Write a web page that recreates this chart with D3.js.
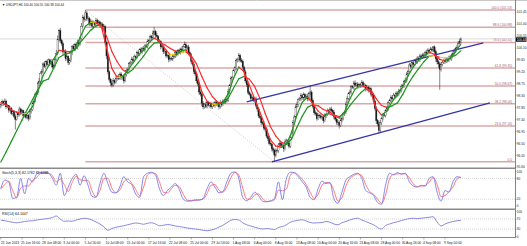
<!doctype html>
<html>
<head>
<style>
body { margin:0; background:#fff; }
svg { display:block; font-family:"Liberation Sans", Arial, sans-serif; }
</style>
<script src="https://d3js.org/d3.v7.min.js"></script>
</head>
<body>
<script>

// ---- data (USDJPY H4) ----
var firstOpen = 97.90;
var closes = [
97.96,98.08,98.01,98.10,97.88,97.92,97.76,97.82,97.64,97.70,
97.52,97.41,97.66,97.58,97.80,97.68,97.74,97.55,97.62,97.48,
97.56,97.44,97.70,97.78,98.02,98.10,98.36,98.40,98.78,98.85,
99.15,99.22,99.50,99.40,99.58,99.47,99.65,99.52,99.60,99.38,
99.45,99.66,99.90,100.42,100.76,100.38,100.26,99.95,99.98,99.70,
99.78,99.55,99.62,99.92,100.15,100.06,100.24,100.12,100.32,100.25,
100.45,100.92,101.25,101.18,101.42,101.20,101.22,101.00,101.10,100.92,
101.06,100.98,101.14,101.02,101.08,100.95,101.00,100.84,100.90,100.30,
99.80,99.20,98.92,98.78,98.70,98.88,98.80,98.95,99.02,98.96,
99.12,98.98,99.02,98.86,99.10,99.24,99.30,99.52,99.55,99.68,
99.62,99.78,99.74,99.92,99.90,100.04,99.96,100.08,100.02,100.18,
100.16,100.34,100.38,100.52,100.48,100.66,100.72,100.58,100.54,100.36,
100.34,100.14,100.16,99.96,99.98,99.80,99.82,99.66,99.70,99.68,
99.80,99.78,99.92,99.86,100.00,99.94,100.06,99.98,100.16,100.22,
100.10,100.14,99.92,99.84,99.60,99.48,99.22,99.12,98.86,98.74,
98.44,98.36,98.02,97.88,97.98,97.90,98.04,97.94,98.00,97.88,
97.98,97.94,98.06,97.96,98.00,97.88,98.04,97.96,98.10,98.06,
98.16,98.12,98.46,98.68,98.94,98.98,99.24,99.36,99.62,99.66,
99.82,99.64,99.60,99.38,99.20,98.86,98.72,98.42,98.36,98.20,
98.24,98.12,98.18,97.92,97.80,97.54,97.48,97.28,97.26,97.08,
97.04,96.78,96.68,96.50,96.48,96.30,96.24,96.06,96.22,96.24,
96.44,96.50,96.42,96.44,96.30,96.56,96.60,96.52,96.40,96.72,
96.92,97.28,97.50,97.88,97.96,98.16,98.18,98.30,98.22,98.34,
98.24,98.28,98.18,98.38,98.44,98.12,97.90,97.66,97.62,97.44,
97.56,97.54,97.48,97.50,97.36,97.54,97.58,97.74,97.68,97.80,
97.74,97.68,97.50,97.42,97.30,97.28,97.18,97.38,97.44,97.62,
97.66,97.98,98.20,98.38,98.44,98.64,98.62,98.78,98.70,98.74,
98.64,98.72,98.68,98.80,98.66,98.70,98.56,98.62,98.50,98.56,
98.36,98.32,98.10,97.82,97.36,97.24,97.00,97.28,97.44,97.58,
97.56,97.74,97.82,98.04,98.12,98.24,98.18,98.32,98.28,98.40,
98.34,98.48,98.50,98.64,98.68,98.84,98.88,99.12,99.22,99.46,
99.40,99.54,99.48,99.62,99.58,99.72,99.66,99.80,99.74,99.84,
99.80,99.94,99.88,100.02,99.96,100.06,100.02,100.14,99.96,99.70,
99.58,99.50,99.30,99.48,99.56,99.62,99.58,99.68,99.64,99.76,
99.70,99.84,99.90,99.98,100.08,100.12,100.28,100.34,100.44
];
// wick lengths above / below the body, in pips (0.01)
var wickHi = [
6,8,4,10,5,7,3,9,6,4, 5,8,6,4,9,5,7,3,6,8, 4,6,9,5,7,10,6,8,5,12, 7,9,6,10,5,8,6,4,9,7,
5,8,12,15,4,10,6,8,5,7, 6,4,9,8,6,10,5,7,9,6, 8,12,10,6,11,7,9,5,8,6, 7,5,9,6,8,4,7,6,9,5,
8,10,6,5,7,9,4,8,6,10, 5,7,6,9,4,8,6,5,7,9, 6,8,4,7,9,5,8,6,10,7, 5,9,6,8,7,10,17,6,8,5,
7,6,9,5,8,6,7,4,9,6, 8,5,7,9,6,8,5,10,7,12, 9,6,8,5,7,6,9,5,8,6, 7,10,6,8,5,9,6,7,4,8,
6,9,5,7,8,6,10,5,7,6, 8,6,9,7,10,6,8,5,9,7, 9,6,8,7,5,9,6,8,7,5, 6,8,5,9,7,6,8,5,7,9,
6,8,5,7,9,6,8,7,10,6, 8,12,6,9,7,10,8,6,9,7, 8,10,7,9,12,6,8,10,7,9, 6,8,10,7,27,6,8,5,9,7,
8,6,9,5,7,10,6,8,5,7, 9,6,8,7,5,8,6,9,7,5, 7,10,8,6,9,7,5,8,10,6, 8,5,7,9,6,8,5,7,6,9,
6,8,7,5,9,6,8,10,7,6, 8,6,9,5,7,8,6,9,5,7, 6,8,5,9,7,6,10,8,6,9, 7,6,8,5,9,7,6,8,5,7,
8,6,9,7,5,8,6,4,6,8, 7,9,6,8,5,7,9,6,8,5, 7,6,8,9,6,10,8,11,6
];
var wickLo = [
7,5,9,6,8,4,10,6,7,9, 6,39,5,8,6,10,5,9,7,6, 8,10,5,7,6,9,5,8,7,6, 9,6,8,5,10,7,6,9,5,8,
6,8,5,7,9,10,8,12,6,9, 7,10,8,6,9,5,8,6,7,9, 6,8,7,10,5,9,6,8,7,5, 8,6,9,7,5,8,6,9,7,10,
12,10,8,12,9,6,8,5,9,7, 6,9,7,10,5,8,6,9,7,5, 8,6,9,5,7,10,6,8,5,9, 6,8,5,7,9,6,8,10,7,9,
8,10,6,9,7,8,6,10,7,5, 7,9,6,8,5,7,9,6,8,6, 8,6,10,7,9,8,10,7,9,8, 10,8,12,9,7,6,8,5,9,7,
8,6,9,5,7,10,6,8,5,7, 6,8,5,9,7,6,8,6,9,7, 7,9,6,8,10,7,9,8,6,10, 8,6,9,7,10,8,6,9,7,8,
10,8,9,7,8,10,9,25,8,6, 9,7,10,8,12,6,9,10,8,7, 6,8,9,7,5,8,6,9,7,10, 8,6,9,7,6,10,8,9,7,8,
6,9,7,8,10,6,8,5,9,7, 8,6,9,7,10,8,12,6,9,7, 8,6,9,7,5,8,6,9,7,5, 8,6,9,7,5,8,10,6,8,7,
9,7,10,8,12,9,13,6,8,7, 6,8,5,9,7,6,8,5,9,7, 8,6,9,7,5,8,6,9,7,5, 8,6,9,7,5,8,6,9,7,5,
7,6,8,5,9,7,6,8,9,12, 10,14,78,9,7,6,8,5,9,7, 6,8,5,9,7,6,8,5,7
];

// two slope-coloured moving averages, one value every 4 bars
var maStep = 4;
var fastMA = [
98.04,97.95,97.77,97.68,97.62,97.63,97.89,98.45,99.06,99.41,
99.68,100.01,99.98,99.95,100.03,100.50,100.92,101.07,101.07,100.91,
100.11,99.33,98.99,99.01,99.25,99.54,99.82,100.03,100.29,100.47,
100.36,100.08,99.85,99.84,99.98,100.03,99.73,99.15,98.46,98.09,
97.98,97.98,98.04,98.38,98.95,99.38,99.21,98.70,98.18,97.68,
97.16,96.64,96.40,96.36,96.47,96.92,97.57,98.05,98.25,98.00,
97.72,97.56,97.63,97.54,97.46,97.70,98.18,98.55,98.69,98.64,
98.41,97.81,97.57,97.72,98.08,98.34,98.63,99.04,99.39,99.63,
99.80,99.94,99.86,99.67,99.61,99.72,99.97,100.24
];
var slowMA = [
95.80,96.18,96.58,96.98,97.38,97.78,98.16,98.52,98.85,98.93,
99.34,99.74,99.85,99.91,100.03,100.30,100.54,100.77,100.93,100.97,
100.53,99.97,99.58,99.29,99.15,99.30,99.55,99.79,100.08,100.28,
100.31,100.22,100.09,99.98,99.95,99.95,99.81,99.50,99.03,98.60,
98.27,98.06,98.01,98.21,98.58,98.94,99.03,98.92,98.65,98.20,
97.63,97.13,96.78,96.55,96.47,96.67,97.11,97.53,97.86,97.97,
97.92,97.78,97.71,97.57,97.51,97.64,97.93,98.17,98.40,98.56,
98.52,98.18,97.93,97.86,97.92,98.03,98.35,98.73,99.05,99.32,
99.58,99.79,99.81,99.75,99.73,99.75,99.82,100.00
];

// oscillators, one value every 3 bars
var oscStep = 3;
var stochK = [
50,75,70,22,25,80,35,80,70,92, 97,96,95,80,60,95,30,55,80,92,
60,88,60,28,25,65,95,65,40,38, 55,85,70,62,35,25,85,95,98,90,
50,30,45,55,65,48,20,14,15,18, 17,22,50,70,55,38,42,70,95,99,
80,25,15,25,40,30,14,12,15,22, 70,18,80,98,96,85,70,55,25,18,
50,72,65,68,20,8,40,75,85,92, 95,80,45,38,30,10,5,60,95,90,
97,92,95,70,58,55,60,58,80,85, 40,14,45,40,70,85,82.18
];
var stochD = [
50,62,72,45,24,52,58,58,75,82, 94,96,95,88,70,78,62,42,68,86,
76,74,74,44,27,45,80,80,52,39, 46,70,78,66,48,30,55,90,96,94,
70,40,38,50,60,56,34,17,15,16, 18,20,36,60,62,46,40,56,82,97,
90,52,20,20,32,35,22,13,14,18, 46,44,49,89,97,90,78,62,40,22,
34,61,68,66,44,14,24,58,80,88, 93,88,62,42,34,20,8,32,78,92,
93,94,93,82,64,56,58,59,69,82, 62,27,30,42,55,78,83.63
];
var rsi = [
65,63,60,57,55,57,60,62,63,66, 68,70,72,76,82,70,61,62,61,66,
70,73,71,66,58,50,38,25,32,37, 40,43,47,51,54,52,49,53,55,50,
43,45,48,46,42,40,37,34,32,30, 28,25,23,26,30,38,45,55,65,68,
66,55,47,42,37,33,30,32,30,28, 36,40,47,57,62,65,67,62,56,54,
55,56,60,57,50,47,55,60,66,71, 73,66,60,53,47,36,30,44,50,55,
59,64,68,72,73,72,73,75,77,79, 58,42,50,56,60,63,64.14
];

// fibonacci retracement (high bar 64 -> low bar 207)
var fibHigh = 101.53, fibLow = 95.81, fibHighBar = 64, fibLowBar = 207;
var fibLevels = [0, 23.6, 38.2, 50.0, 61.8, 78.6, 88.6, 100.0];
var fibLabels = ["0.0", "23.6 (97.16)", "38.2 (98.00)", "50.0 (98.67)", "61.8 (99.35)",
                 "78.6 (100.31)", "88.6 (100.88)", "100.0 (101.53)"];

// channel lines [bar, price]
var channelUpper = [[186, 98.07], [365, 100.29]];
var channelLower = [[205, 95.81], [370, 98.03]];

var lastPrice = 100.44;
var titleText = "\u25BC USDJPY,H4  100.40 100.55 100.38 100.44";
var priceTicks = [101.45, 101.00, 100.55, 100.10, 99.65, 99.20, 98.75, 98.30, 97.85, 97.40, 96.95, 96.50, 96.05, 95.60];
var stochTicks = [100, 80, 20, 0];
var stochLevels = [80, 20];
var rsiTicks = [100, 70, 30, 0];
var rsiLevels = [70, 30];
var dateStep = 16;
var dateLabels = ["21 Jun 2013", "25 Jun 16:00", "28 Jun 08:00", "3 Jul 00:00", "5 Jul 16:00",
  "10 Jul 08:00", "15 Jul 00:00", "17 Jul 16:00", "22 Jul 08:00", "25 Jul 00:00", "29 Jul 16:00",
  "1 Aug 08:00", "6 Aug 00:00", "8 Aug 16:00", "13 Aug 08:00", "16 Aug 00:00", "20 Aug 16:00",
  "23 Aug 08:00", "28 Aug 00:00", "30 Aug 16:00", "4 Sep 08:00", "9 Sep 00:00"];

// ---- layout ----
var W = 527, H = 246, axisX = 515;
var svg = d3.select("body").append("svg").attr("width", W).attr("height", H);
svg.append("rect").attr("width", W).attr("height", H).attr("fill", "#fff");

var x = d3.scaleLinear().domain([0, 348]).range([0.8, 460.9]);
var y = d3.scaleLinear().domain([fibLow, fibHigh]).range([161.8, 10]);
var yStoch = d3.scaleLinear().domain([0, 100]).range([206, 171.5]);
var yRsi = d3.scaleLinear().domain([0, 100]).range([236.5, 211.5]);

var defs = svg.append("defs");
function clip(id, y0, h) {
  defs.append("clipPath").attr("id", id).append("rect")
    .attr("x", 0).attr("y", y0).attr("width", axisX).attr("height", h);
}
clip("cMain", 1, 166.5);
clip("cStoch", 169.5, 39);
clip("cRsi", 210, 27);

var main = svg.append("g").attr("clip-path", "url(#cMain)");

// fib lines + labels
function fibY(d) { return y(fibLow + (fibHigh - fibLow) * d / 100); }
main.selectAll(".fib").data(fibLevels).enter().append("line")
  .attr("x1", x(fibHighBar)).attr("x2", axisX)
  .attr("y1", fibY).attr("y2", fibY)
  .attr("stroke", "#d9a9a9").attr("stroke-width", 1.5);
main.selectAll(".fibt").data(fibLevels).enter().append("text")
  .attr("x", 512).attr("y", function(d) { return fibY(d) - 1.2; })
  .attr("text-anchor", "end").attr("font-size", 3.2).attr("fill", "#a85c5c")
  .text(function(d, i) { return fibLabels[i]; });
main.append("line")
  .attr("x1", x(fibHighBar)).attr("y1", y(fibHigh))
  .attr("x2", x(fibLowBar)).attr("y2", y(fibLow))
  .attr("stroke", "#b8b8b8").attr("stroke-width", 0.7).attr("stroke-dasharray", "1,1.5");

// bid line
main.append("line").attr("x1", 0).attr("x2", axisX)
  .attr("y1", y(lastPrice)).attr("y2", y(lastPrice))
  .attr("stroke", "#d0d0d0").attr("stroke-width", 0.8);

// candles
var bars = closes.map(function(c, i) {
  var o = i === 0 ? firstOpen : closes[i - 1];
  return { i: i, o: o, c: c,
           h: Math.max(o, c) + wickHi[i] / 100,
           l: Math.min(o, c) - wickLo[i] / 100 };
});
main.selectAll(".wick").data(bars).enter().append("line")
  .attr("x1", function(d) { return x(d.i); }).attr("x2", function(d) { return x(d.i); })
  .attr("y1", function(d) { return y(d.h); }).attr("y2", function(d) { return y(d.l); })
  .attr("stroke", "#333").attr("stroke-width", 0.6);
main.selectAll(".body").data(bars).enter().append("rect")
  .attr("x", function(d) { return x(d.i) - 0.65; }).attr("width", 1.3)
  .attr("y", function(d) { return y(Math.max(d.o, d.c)); })
  .attr("height", function(d) { return Math.max(0.5, Math.abs(y(d.o) - y(d.c))); })
  .attr("fill", function(d) { return d.c >= d.o ? "#fff" : "#111"; })
  .attr("stroke", "#222").attr("stroke-width", 0.35);

// channel
[channelUpper, channelLower].forEach(function(c) {
  main.append("line")
    .attr("x1", x(c[0][0])).attr("y1", y(c[0][1]))
    .attr("x2", x(c[1][0])).attr("y2", y(c[1][1]))
    .attr("stroke", "#3434a8").attr("stroke-width", 1.3);
});

// moving averages coloured by slope
function drawMA(vals) {
  var pts = vals.map(function(v, k) { return { i: k * maStep, v: v }; });
  main.append("g").selectAll("line").data(d3.pairs(pts)).enter().append("line")
    .attr("x1", function(p) { return x(p[0].i); }).attr("y1", function(p) { return y(p[0].v); })
    .attr("x2", function(p) { return x(p[1].i); }).attr("y2", function(p) { return y(p[1].v); })
    .attr("stroke", function(p) {
      var d = p[1].v - p[0].v;
      return Math.abs(d) < 0.03 ? "#f2d200" : (d > 0 ? "#1f961f" : "#ff2a2a");
    })
    .attr("stroke-width", 1.2).attr("stroke-linecap", "round");
}
drawMA(slowMA);
drawMA(fastMA);

// stochastic
var gS = svg.append("g").attr("clip-path", "url(#cStoch)");
gS.selectAll(".lvl").data(stochLevels).enter().append("line")
  .attr("x1", 0).attr("x2", axisX)
  .attr("y1", function(d) { return yStoch(d); }).attr("y2", function(d) { return yStoch(d); })
  .attr("stroke", "#bbb").attr("stroke-width", 0.6).attr("stroke-dasharray", "1,1");
var oscLine = function(sc) {
  return d3.line().x(function(d, k) { return x(k * oscStep); }).y(function(d) { return sc(d); })
    .curve(d3.curveMonotoneX);
};
gS.append("path").datum(stochD).attr("d", oscLine(yStoch))
  .attr("fill", "none").attr("stroke", "#ff6a6a").attr("stroke-width", 0.9);
gS.append("path").datum(stochK).attr("d", oscLine(yStoch))
  .attr("fill", "none").attr("stroke", "#7878ee").attr("stroke-width", 0.9);

// rsi
var gR = svg.append("g").attr("clip-path", "url(#cRsi)");
gR.selectAll(".lvl").data(rsiLevels).enter().append("line")
  .attr("x1", 0).attr("x2", axisX)
  .attr("y1", function(d) { return yRsi(d); }).attr("y2", function(d) { return yRsi(d); })
  .attr("stroke", "#bbb").attr("stroke-width", 0.6).attr("stroke-dasharray", "1,1");
gR.append("path").datum(rsi).attr("d", oscLine(yRsi))
  .attr("fill", "none").attr("stroke", "#7a7ae2").attr("stroke-width", 0.9);

// frames
svg.append("line").attr("x1", 0).attr("x2", W).attr("y1", 0.5).attr("y2", 0.5)
  .attr("stroke", "#c8c8c8").attr("stroke-width", 1);
[168.3, 209.2].forEach(function(yy) {
  svg.append("line").attr("x1", 0).attr("x2", axisX).attr("y1", yy).attr("y2", yy)
    .attr("stroke", "#8a8a8a").attr("stroke-width", 1.4);
});
svg.append("line").attr("x1", 0).attr("x2", axisX).attr("y1", 237.5).attr("y2", 237.5)
  .attr("stroke", "#666").attr("stroke-width", 0.8);
svg.append("line").attr("x1", axisX + 0.5).attr("x2", axisX + 0.5).attr("y1", 0).attr("y2", 238)
  .attr("stroke", "#666").attr("stroke-width", 0.8);

// right axes
function rightAxis(sc, ticks, fmt) {
  var g = svg.append("g");
  g.selectAll("line").data(ticks).enter().append("line")
    .attr("x1", axisX).attr("x2", axisX + 1.5)
    .attr("y1", function(d) { return sc(d); }).attr("y2", function(d) { return sc(d); })
    .attr("stroke", "#666").attr("stroke-width", 0.5);
  g.selectAll("text").data(ticks).enter().append("text")
    .attr("x", axisX + 1.8).attr("y", function(d) { return sc(d); }).attr("dy", "0.35em")
    .attr("font-size", 3.2).attr("fill", "#222").text(fmt);
}
rightAxis(y, priceTicks, function(d) { return d.toFixed(2); });
rightAxis(yStoch, stochTicks, function(d) { return String(d); });
rightAxis(yRsi, rsiTicks, function(d) { return String(d); });

svg.append("rect").attr("x", axisX + 1).attr("y", y(lastPrice) - 1.6)
  .attr("width", 10.5).attr("height", 4.4).attr("fill", "#000");
svg.append("text").attr("x", axisX + 1.8).attr("y", y(lastPrice) + 0.6).attr("dy", "0.35em")
  .attr("font-size", 3.1).attr("fill", "#fff").text(lastPrice.toFixed(2));

// date axis
var dg = svg.append("g");
dg.selectAll("line").data(dateLabels).enter().append("line")
  .attr("x1", function(d, n) { return x(n * dateStep); }).attr("x2", function(d, n) { return x(n * dateStep); })
  .attr("y1", 237.5).attr("y2", 239.5).attr("stroke", "#666").attr("stroke-width", 0.5);
dg.selectAll("text").data(dateLabels).enter().append("text")
  .attr("x", function(d, n) { return Math.max(1, x(n * dateStep) - 1); }).attr("y", 243.5)
  .attr("font-size", 3.3).attr("fill", "#222").text(function(d) { return d; });

// captions
svg.append("text").attr("x", 2).attr("y", 5.8).attr("font-size", 3.6).attr("fill", "#111")
  .attr("textLength", 62).attr("lengthAdjust", "spacingAndGlyphs").text(titleText);
svg.append("text").attr("x", 2).attr("y", 174.3).attr("font-size", 3.5).attr("fill", "#111")
  .text("Stoch(5,3,3) 82.1782 83.6289");
svg.append("text").attr("x", 2).attr("y", 214.8).attr("font-size", 3.5).attr("fill", "#111")
  .text("RSI(14) 64.1447");

</script>
</body>
</html>
